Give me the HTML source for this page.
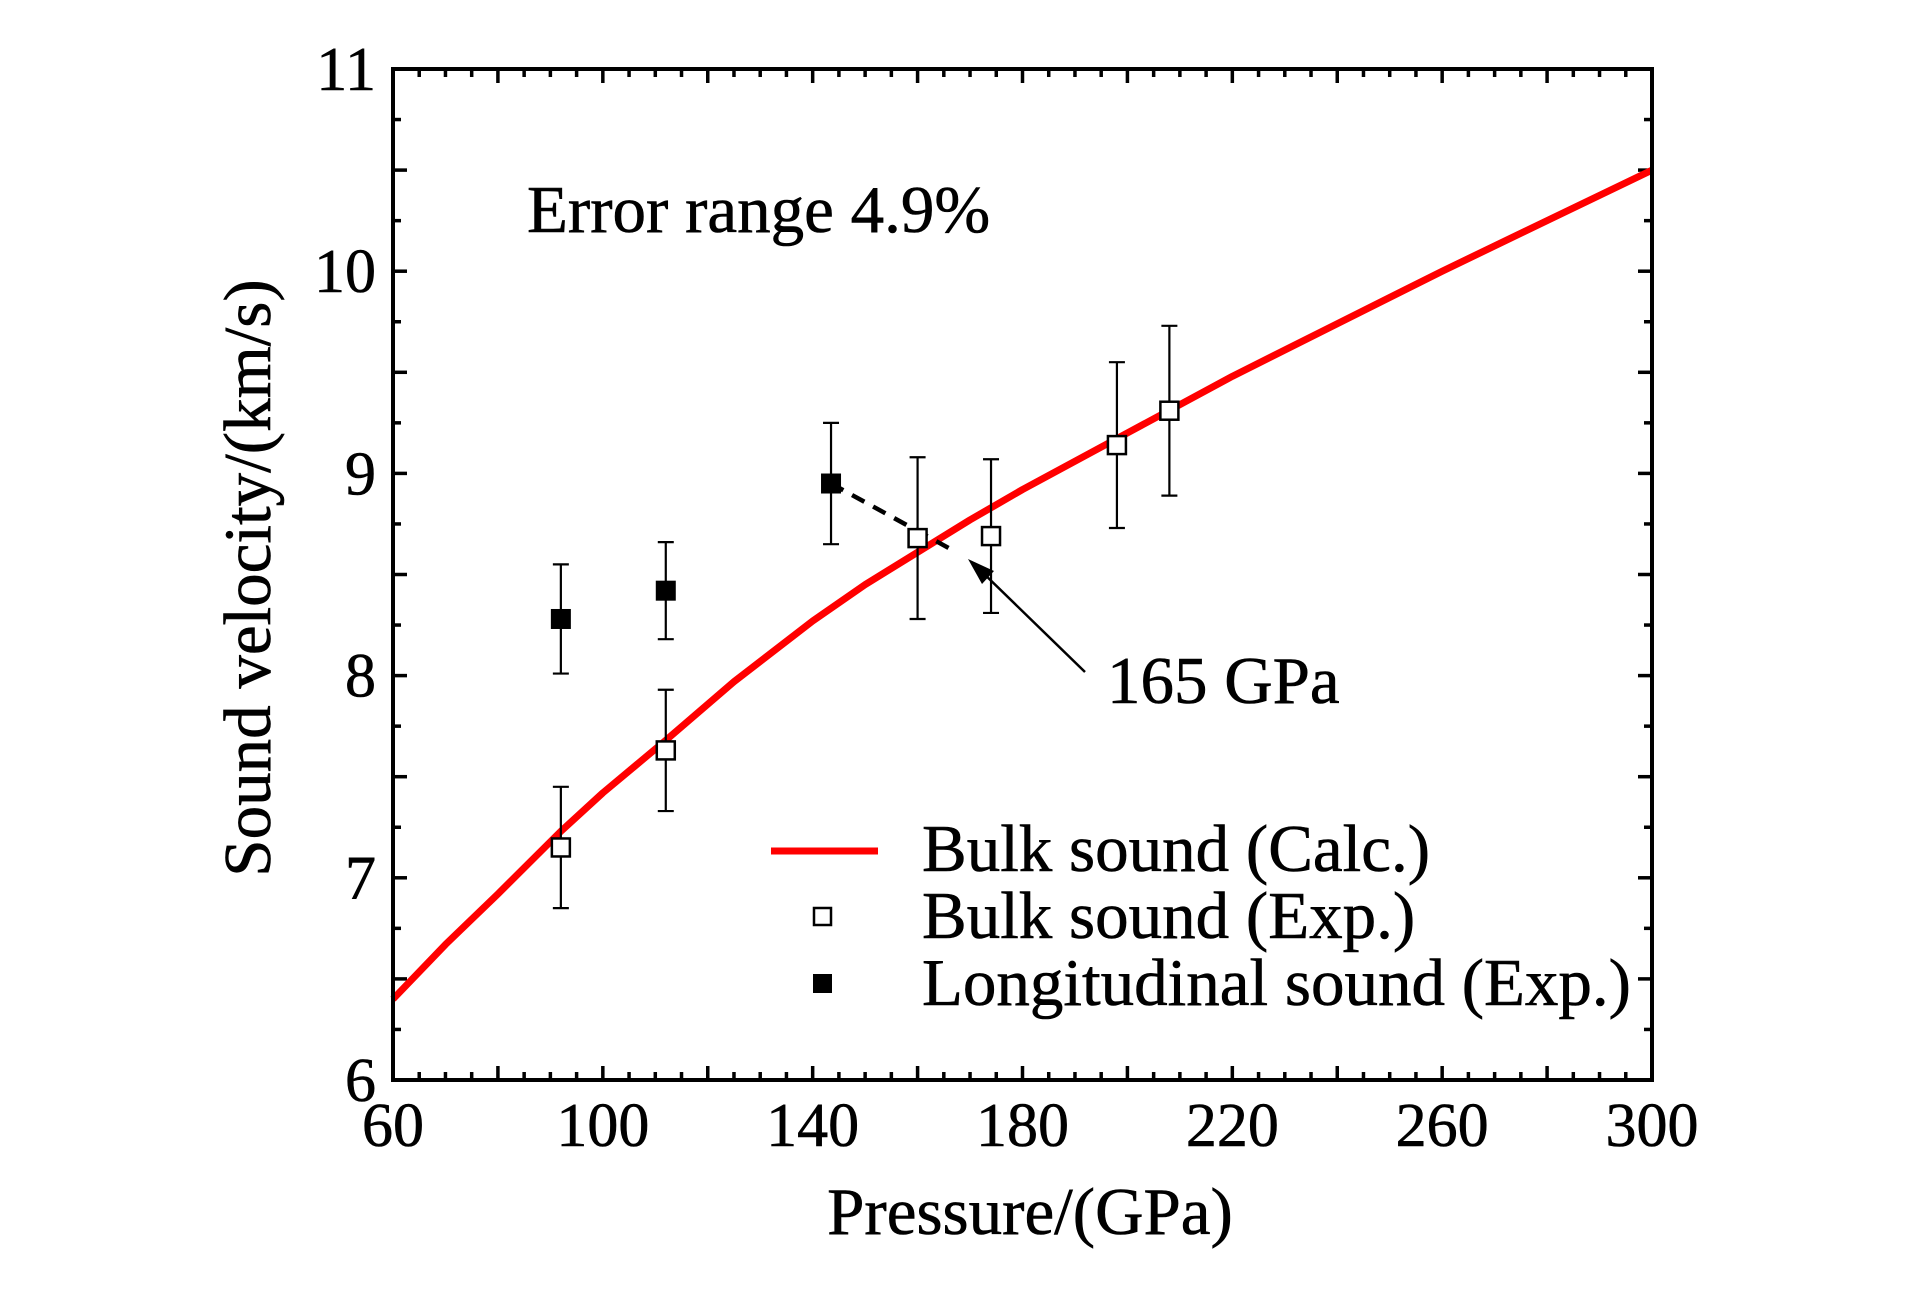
<!DOCTYPE html>
<html><head><meta charset="utf-8"><style>
html,body{margin:0;padding:0;background:#fff;}
svg{display:block;font-family:"Liberation Serif",serif;}
</style></head><body>
<svg id="chart" width="1923" height="1299" viewBox="0 0 1923 1299"></svg>
<script>
const curveP = [60,70,80,92,100,112,125,140,150,160,170,180,200,220,240,260,280,300];
const curveV = [6.4,6.67,6.92,7.23,7.42,7.68,7.97,8.27,8.45,8.61,8.77,8.92,9.2,9.48,9.74,10.0,10.25,10.5];
const bulkP = [92,112,160,174,198,208];
const bulkV = [7.15,7.63,8.68,8.69,9.14,9.31];
const bulkErr = [0.3,0.3,0.4,0.38,0.41,0.42];
const longP = [92,112,143.5];
const longV = [8.28,8.42,8.95];
const longErr = [0.27,0.24,0.3];
const xTicks = [60,100,140,180,220,260,300];
const yTicks = [6,7,8,9,10,11];

const NS="http://www.w3.org/2000/svg";
const svg=document.getElementById('chart');
const L=393,R=1652,T=69,B=1080;
const xs=p=>L+(p-60)/240*(R-L);
const ys=v=>B-(v-6)/5*(B-T);
function mk(tag,attrs,parent){const e=document.createElementNS(NS,tag);for(const k in attrs)e.setAttribute(k,attrs[k]);(parent||svg).appendChild(e);return e;}
function txt(s,x,y,size,anchor){const t=mk('text',{x:x,y:y,'font-size':size,'text-anchor':anchor||'start',fill:'#000',stroke:'#000','stroke-width':0.6});t.textContent=s;return t;}

for(let p=60;p<=300;p+=5){
  const major=p%20===0; const len=major?14:8;
  const t1=mk('line',{x1:xs(p),x2:xs(p),y1:B,y2:B-len,stroke:'#000','stroke-width':3.5});
  
  const t2=mk('line',{x1:xs(p),x2:xs(p),y1:T,y2:T+len,stroke:'#000','stroke-width':3.5});
  
}
for(let v=6;v<=11.001;v+=0.25){
  const major=Math.abs(v*2-Math.round(v*2))<1e-6; const len=major?14:8;
  const t1=mk('line',{x1:L,x2:L+len,y1:ys(v),y2:ys(v),stroke:'#000','stroke-width':3.5});
  
  const t2=mk('line',{x1:R,x2:R-len,y1:ys(v),y2:ys(v),stroke:'#000','stroke-width':3.5});
  
}
xTicks.forEach(p=>{const t=txt(String(p),xs(p),1146,62,'middle');
  });
yTicks.forEach(v=>{const t=txt(String(v),376,ys(v)+21,62,'end');
  });

const cp=mk('polyline',{points:curveP.map((p,i)=>xs(p)+','+ys(curveV[i])).join(' '),fill:'none',stroke:'#ff0000','stroke-width':7,'stroke-linejoin':'round'});


function errbar(p,v,e,name){
  const g=mk('g',{});
  
  mk('line',{x1:xs(p),x2:xs(p),y1:ys(v+e),y2:ys(v-e),stroke:'#000','stroke-width':2.2},g);
  mk('line',{x1:xs(p)-8,x2:xs(p)+8,y1:ys(v+e),y2:ys(v+e),stroke:'#000','stroke-width':2.2},g);
  mk('line',{x1:xs(p)-8,x2:xs(p)+8,y1:ys(v-e),y2:ys(v-e),stroke:'#000','stroke-width':2.2},g);
}
const dl=mk('line',{x1:xs(longP[2]),y1:ys(longV[2]),x2:xs(166),y2:ys(8.63),stroke:'#000','stroke-width':4.5,'stroke-dasharray':'14,10'});


bulkP.forEach((p,i)=>{errbar(p,bulkV[i],bulkErr[i],'bulk-errorbar');
  const r=mk('rect',{x:xs(p)-9,y:ys(bulkV[i])-9,width:18,height:18,fill:'#fff',stroke:'#000','stroke-width':2.5});
  });
longP.forEach((p,i)=>{errbar(p,longV[i],longErr[i],'long-errorbar');
  const r=mk('rect',{x:xs(p)-10,y:ys(longV[i])-10,width:20,height:20,fill:'#000'});
  });

const ar=mk('line',{x1:1085,y1:672,x2:978,y2:568,stroke:'#000','stroke-width':2.5});

const ah=mk('polygon',{points:'968,559 994,571 982,584',fill:'#000'});


const fr=mk('rect',{x:L,y:T,width:R-L,height:B-T,fill:'none',stroke:'#000','stroke-width':4});


let t=txt('Error range 4.9%',527,232,67);
t=txt('165 GPa',1107,703,67);
t=txt('Pressure/(GPa)',1030,1234,67,'middle');
t=txt('Sound velocity/(km/s)',0,0,67,'middle');t.setAttribute('transform','translate(270,578) rotate(-90)');


const lg=mk('g',{});
mk('line',{x1:771,x2:878,y1:851,y2:851,stroke:'#ff0000','stroke-width':7},lg);
mk('rect',{x:814,y:908,width:17,height:17,fill:'#fff',stroke:'#000','stroke-width':2.5},lg);
mk('rect',{x:813,y:974,width:19,height:19,fill:'#000'},lg);
[['Bulk sound (Calc.)',871],['Bulk sound (Exp.)',938],['Longitudinal sound (Exp.)',1005]].forEach(a=>{
  const e=txt(a[0],922,a[1],67);lg.appendChild(e);
  });
</script>
</body></html>
